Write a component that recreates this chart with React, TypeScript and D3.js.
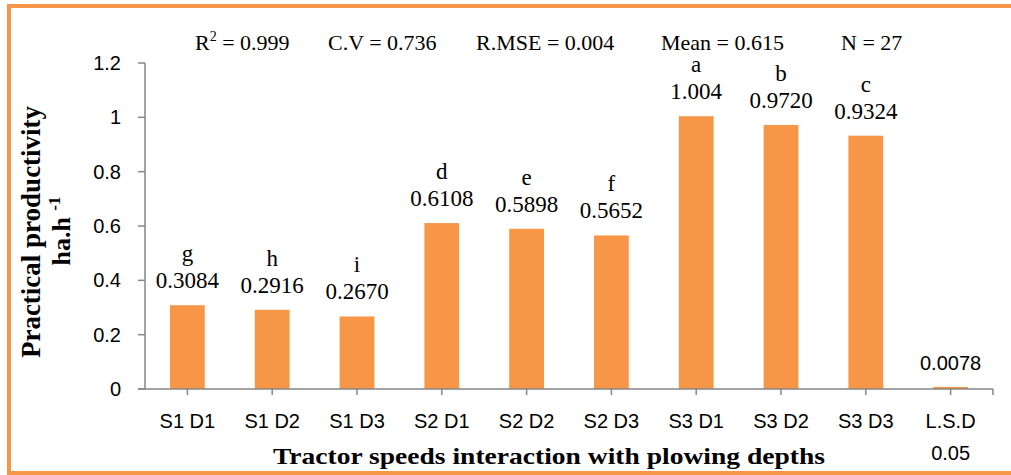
import React, { useEffect } from "react";
import * as d3 from "d3";

const categories = ["S1 D1", "S1 D2", "S1 D3", "S2 D1", "S2 D2", "S2 D3", "S3 D1", "S3 D2", "S3 D3", "L.S.D"];
const values = [0.3084, 0.2916, 0.267, 0.6108, 0.5898, 0.5652, 1.004, 0.972, 0.9324, 0.0078];
const valueLabels = ["0.3084", "0.2916", "0.2670", "0.6108", "0.5898", "0.5652", "1.004", "0.9720", "0.9324", "0.0078"];
const letters = ["g", "h", "i", "d", "e", "f", "a", "b", "c", ""];
const yTicks = [0, 0.2, 0.4, 0.6, 0.8, 1, 1.2];
const stats = [
  { label: "R", sup: "2", rest: " = 0.999", x: 195 },
  { label: "C.V = 0.736", sup: "", rest: "", x: 328 },
  { label: "R.MSE = 0.004", sup: "", rest: "", x: 476 },
  { label: "Mean = 0.615", sup: "", rest: "", x: 661 },
  { label: "N = 27", sup: "", rest: "", x: 841 },
];

const W = 1011;
const H = 475;
const orange = "#F79646";
const axisGray = "#868686";
const serif = "'Liberation Serif', 'Times New Roman', serif";
const sans = "'Liberation Sans', Arial, sans-serif";

export default function App() {
  useEffect(() => {
    document.body.style.margin = "0";
  }, []);

  const x = d3.scaleBand().domain(categories).range([145, 993]).padding(0);
  const y = d3.scaleLinear().domain([0, 1.2]).range([389, 63]);
  const barW = x.bandwidth() * 0.41;
  const fmt = d3.format("");

  return (
    <svg width={W} height={H} style={{ display: "block", background: "#fff" }}>
      {/* frame */}
      <rect x={9} y={6} width={W + 20} height={H - 8} fill="none" stroke={orange} strokeWidth={4} />

      {/* stats header */}
      {stats.map((s, i) => (
        <text key={i} x={s.x} y={50} style={{ fontFamily: serif }} fontSize={22} fill="#000">
          {s.label}
          {s.sup && <tspan fontSize={14} dy={-9}>{s.sup}</tspan>}
          {s.rest && <tspan dy={s.sup ? 9 : 0}>{s.rest}</tspan>}
        </text>
      ))}

      {/* bars */}
      {values.map((v, i) => (
        <rect
          key={i}
          x={(x(categories[i]) as number) + x.bandwidth() / 2 - barW / 2}
          y={y(v)}
          width={barW}
          height={y(0) - y(v)}
          fill={orange}
        />
      ))}

      {/* axes */}
      <line x1={145} x2={145} y1={y(1.2)} y2={y(0)} stroke={axisGray} strokeWidth={1.5} />
      {yTicks.map((t) => (
        <g key={t}>
          <line x1={138} x2={145} y1={y(t)} y2={y(t)} stroke={axisGray} strokeWidth={1.5} />
          <text x={121} y={y(t) + 7} textAnchor="end" style={{ fontFamily: sans }} fontSize={20} fill="#000">
            {fmt(t)}
          </text>
        </g>
      ))}
      <line x1={138} x2={993} y1={y(0)} y2={y(0)} stroke={axisGray} strokeWidth={1.5} />
      {categories.map((c) => {
        const cx = (x(c) as number) + x.bandwidth() / 2;
        return (
          <g key={c}>
            <line x1={cx} x2={cx} y1={y(0)} y2={y(0) + 6} stroke={axisGray} strokeWidth={1.5} />
            <text x={cx} y={428} textAnchor="middle" style={{ fontFamily: sans }} fontSize={20} fill="#000">
              {c}
            </text>
          </g>
        );
      })}
      <line x1={993} x2={993} y1={y(0)} y2={y(0) + 6} stroke={axisGray} strokeWidth={1.5} />
      <text x={(x("L.S.D") as number) + x.bandwidth() / 2} y={460} textAnchor="middle" style={{ fontFamily: sans }} fontSize={20} fill="#000">
        0.05
      </text>

      {/* value and letter labels */}
      {values.map((v, i) => {
        const cx = (x(categories[i]) as number) + x.bandwidth() / 2;
        const isLsd = categories[i] === "L.S.D";
        return (
          <g key={i}>
            <text
              x={cx}
              y={y(v) - 17}
              textAnchor="middle"
              style={{ fontFamily: isLsd ? sans : serif }}
              fontSize={isLsd ? 20 : 23}
              fill="#000"
            >
              {valueLabels[i]}
            </text>
            {letters[i] && (
              <text x={cx} y={y(v) - 44} textAnchor="middle" style={{ fontFamily: serif }} fontSize={23} fill="#000">
                {letters[i]}
              </text>
            )}
          </g>
        );
      })}

      {/* axis titles */}
      <text
        x={549}
        y={464}
        textAnchor="middle"
        style={{ fontFamily: serif }}
        fontWeight="bold"
        fontSize={23}
        textLength={552}
        lengthAdjust="spacingAndGlyphs"
        fill="#000"
      >
        Tractor  speeds interaction with plowing depths
      </text>
      <text transform="translate(40,232) rotate(-90)" textAnchor="middle" style={{ fontFamily: serif }} fontWeight="bold" fontSize={27} fill="#000">
        Practical productivity
      </text>
      <text transform="translate(70,231) rotate(-90)" textAnchor="middle" style={{ fontFamily: serif }} fontWeight="bold" fontSize={26} fill="#000">
        ha.h <tspan fontSize={17} dy={-10}>-1</tspan>
      </text>
    </svg>
  );
}
